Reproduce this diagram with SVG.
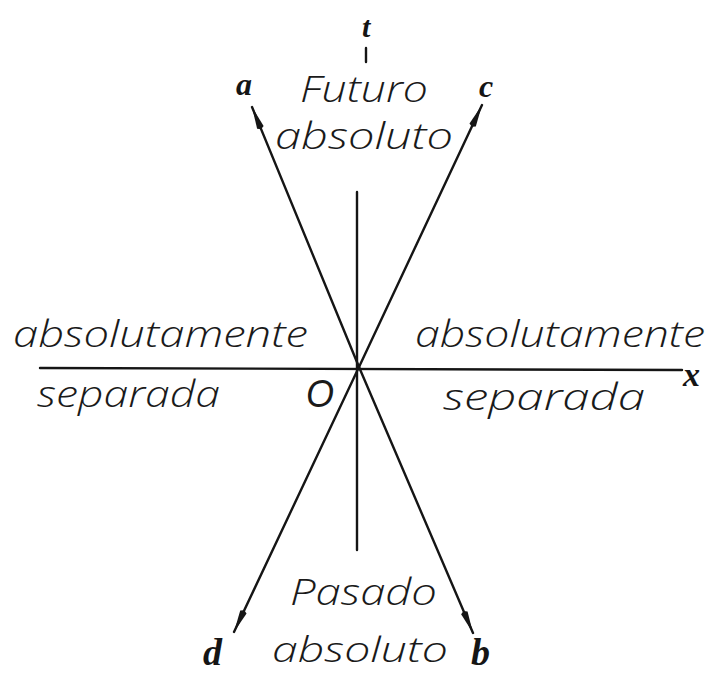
<svg xmlns="http://www.w3.org/2000/svg" width="714" height="673" viewBox="0 0 714 673">
<style>
.ln{stroke:#151515;stroke-width:2.4;fill:none;stroke-linecap:round}
.lbl{font-family:"Open Sans","DejaVu Sans",sans-serif;font-weight:300;font-style:italic;font-size:36px;fill:#1a1a1a}
.var{font-family:"Liberation Serif","DejaVu Serif",serif;font-weight:bold;font-style:italic;font-size:32px;fill:#151515}
</style>
<defs>
<marker id="arr" markerUnits="userSpaceOnUse" markerWidth="26" markerHeight="10" refX="24" refY="5" orient="auto">
<path d="M0,5 L2,1.5 L24,5 L2,8.5 Z" fill="#151515"/>
</marker>
</defs>
<rect width="714" height="673" fill="#ffffff"/>
<g id="connectors">
<line class="ln" x1="40" y1="368" x2="682" y2="370"/>
<line class="ln" x1="357" y1="192" x2="357" y2="550"/>
<line class="ln" x1="366" y1="48" x2="366" y2="62"/>
<line class="ln" x1="359" y1="367" x2="252" y2="107" marker-end="url(#arr)"/>
<line class="ln" x1="359" y1="367" x2="482" y2="105" marker-end="url(#arr)"/>
<line class="ln" x1="359" y1="367" x2="234" y2="632" marker-end="url(#arr)"/>
<line class="ln" x1="359" y1="367" x2="473" y2="633" marker-end="url(#arr)"/>
</g>
<g id="label-t"><text class="var" x="362" y="37" style="font-size:30px">t</text></g>
<g id="label-x"><text class="var" x="683" y="386" style="font-size:34px">x</text></g>
<g id="label-a"><text class="var" x="236" y="95">a</text></g>
<g id="label-c"><text class="var" x="479" y="97">c</text></g>
<g id="label-d"><text class="var" x="203" y="665" style="font-size:38px">d</text></g>
<g id="label-b"><text class="var" x="471" y="665" style="font-size:38px">b</text></g>
<g id="label-O"><text class="lbl" x="306" y="407" style="font-family:'Liberation Sans',sans-serif;font-weight:normal;font-size:38px" textLength="28" lengthAdjust="spacingAndGlyphs">O</text></g>
<g id="futuro">
<text class="lbl" x="300" y="102" textLength="128" lengthAdjust="spacingAndGlyphs">Futuro</text>
<text class="lbl" x="275" y="149" textLength="178" lengthAdjust="spacingAndGlyphs">absoluto</text>
</g>
<g id="separada-left">
<text class="lbl" x="13" y="347" textLength="295" lengthAdjust="spacingAndGlyphs">absolutamente</text>
<text class="lbl" x="37" y="407" textLength="183" lengthAdjust="spacingAndGlyphs">separada</text>
</g>
<g id="separada-right">
<text class="lbl" x="415" y="347" textLength="290" lengthAdjust="spacingAndGlyphs">absolutamente</text>
<text class="lbl" x="443" y="410" textLength="202" lengthAdjust="spacingAndGlyphs">separada</text>
</g>
<g id="pasado">
<text class="lbl" x="290" y="605" textLength="147" lengthAdjust="spacingAndGlyphs">Pasado</text>
<text class="lbl" x="272" y="662" style="font-size:35px" textLength="176" lengthAdjust="spacingAndGlyphs">absoluto</text>
</g>
</svg>
